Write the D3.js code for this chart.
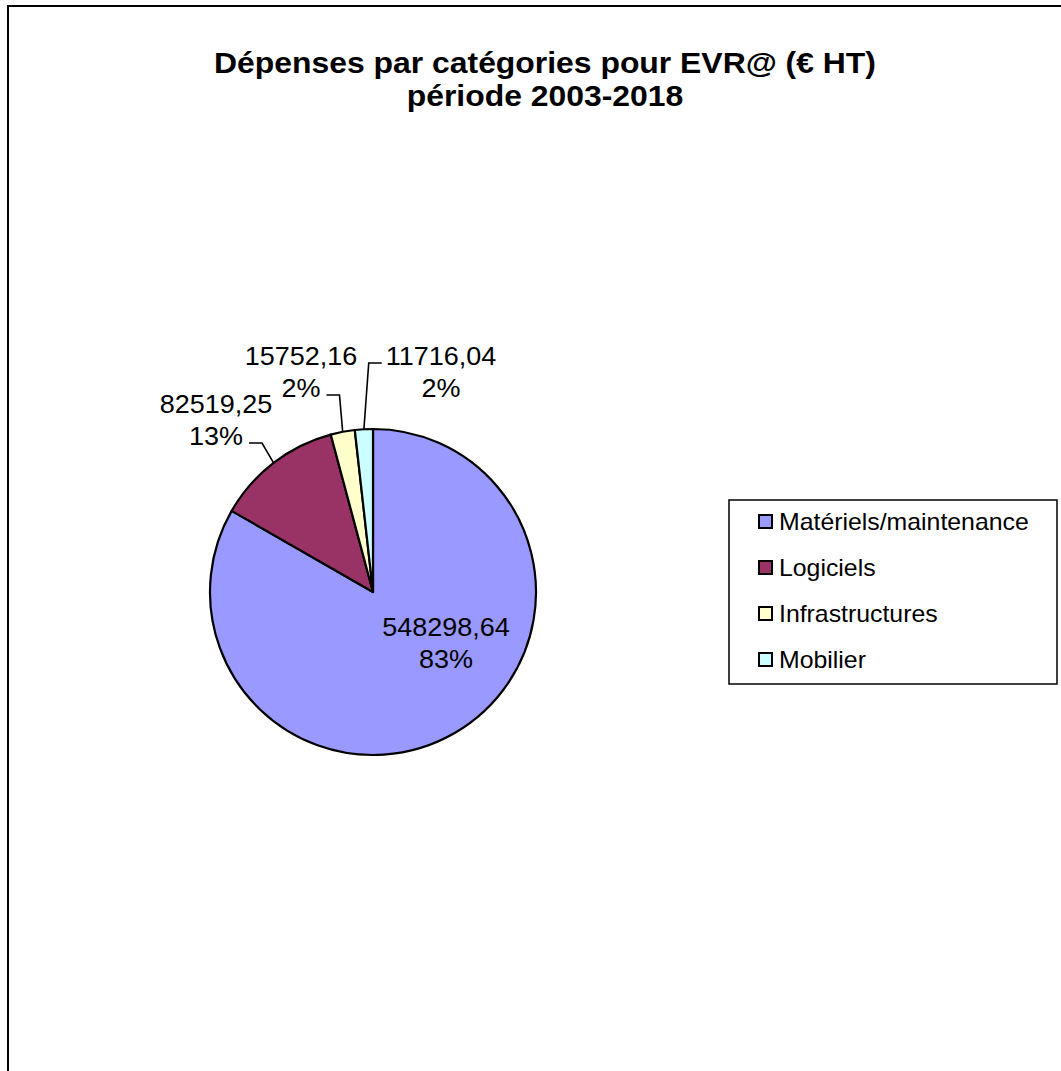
<!DOCTYPE html>
<html>
<head>
<meta charset="utf-8">
<script src="https://cdn.jsdelivr.net/npm/d3@7"></script>
<style>
  html, body { margin: 0; padding: 0; background: #fff; }
  svg { display: block; }
  text { font-family: "Liberation Sans", Arial, sans-serif; fill: #000; }
</style>
</head>
<body>
<svg id="chart" width="1061" height="1071"></svg>
<script>
'use strict';

// data
const categories = ['Matériels/maintenance', 'Logiciels', 'Infrastructures', 'Mobilier'];
const values = [548298.64, 82519.25, 15752.16, 11716.04];
const colors = ['#9999FF', '#993366', '#FFFFCC', '#CCFFFF'];
const titleLines = ['Dépenses par catégories pour EVR@ (€ HT)', 'période 2003-2018'];

// layout
const W = 1061, H = 1071;
const cx = 373, cy = 592, radius = 163;
const textStretch = 1.08;
// label block offset from pie centre (x = centre of text, y = baseline of first line)
const labelLayout = [
    { dx: 73, dy: 44, leader: null },
    { dx: -157, dy: -179, leader: 'right' },
    { dx: -72, dy: -227, leader: 'right' },
    { dx: 68, dy: -227, leader: 'left' }
];
const lineGap = 32;

const svg = d3.select('#chart');

// chart area border (runs off the right and bottom of the picture)
svg.append('path')
    .attr('d', `M8,${H} L8,6 L${W},6`)
    .attr('fill', 'none')
    .attr('stroke', '#000')
    .attr('stroke-width', 2);

// title
const title = svg.append('g')
    .attr('transform', 'translate(545,0) scale(1.1,1)');
title.selectAll('text')
    .data(titleLines)
    .enter()
    .append('text')
    .attr('x', 0)
    .attr('y', (d, i) => 73 + i * 33)
    .attr('text-anchor', 'middle')
    .style('font-size', '29px')
    .style('font-weight', 'bold')
    .text(d => d);

// pie
const total = d3.sum(values);
const fmt = d3.formatLocale({ decimal: ',', thousands: '', grouping: [3], currency: ['', ''] }).format('.2f');

const pie = d3.pie()
    .sort(null)
    .value(d => d);

const arc = d3.arc()
    .innerRadius(0)
    .outerRadius(radius);

const arcs = pie(values);

const pieG = svg.append('g')
    .attr('transform', `translate(${cx},${cy})`);

pieG.selectAll('.slice')
    .data(arcs)
    .enter()
    .append('path')
    .attr('class', 'slice')
    .attr('d', arc)
    .attr('fill', (d, i) => colors[i])
    .attr('stroke', '#000')
    .attr('stroke-width', 2.2)
    .attr('stroke-linejoin', 'round');

// data labels
arcs.forEach((a, i) => {
    const lay = labelLayout[i];
    const lines = [fmt(values[i]), Math.round(values[i] / total * 100) + '%'];
    const g = pieG.append('g')
        .attr('transform', `translate(${lay.dx},${lay.dy}) scale(${textStretch},1)`);
    const texts = g.selectAll('text')
        .data(lines)
        .enter()
        .append('text')
        .attr('x', 0)
        .attr('y', (d, k) => k * lineGap)
        .attr('text-anchor', 'middle')
        .style('font-size', '25px')
        .text(d => d);

    if (!lay.leader) return;

    const mid = (a.startAngle + a.endAngle) / 2;
    const start = [radius * Math.sin(mid), -radius * Math.cos(mid)];
    let endX, endY, elbowX;
    if (lay.leader === 'right') {
        const w = texts.nodes()[1].getComputedTextLength() * textStretch;
        endX = lay.dx + w / 2 + 6;
        endY = lay.dy + lineGap - 2;
        elbowX = endX + 13;
    } else {
        const w = texts.nodes()[0].getComputedTextLength() * textStretch;
        endX = lay.dx - w / 2 - 4;
        endY = lay.dy - 2;
        elbowX = endX - 13;
    }
    pieG.append('path')
        .attr('d', `M${start[0]},${start[1]} L${elbowX},${endY} L${endX},${endY}`)
        .attr('fill', 'none')
        .attr('stroke', '#000')
        .attr('stroke-width', 1.6);
});

// legend
const legend = svg.append('g')
    .attr('transform', 'translate(729,500)');
legend.append('rect')
    .attr('width', 328)
    .attr('height', 184)
    .attr('fill', '#fff')
    .attr('stroke', '#000')
    .attr('stroke-width', 1.5);

const items = legend.selectAll('.item')
    .data(categories)
    .enter()
    .append('g')
    .attr('class', 'item')
    .attr('transform', (d, i) => `translate(0,${22 + i * 46})`);

items.append('rect')
    .attr('x', 30)
    .attr('y', -7)
    .attr('width', 13)
    .attr('height', 13)
    .attr('fill', (d, i) => colors[i])
    .attr('stroke', '#000')
    .attr('stroke-width', 2);

items.append('text')
    .attr('transform', `translate(50,8) scale(${textStretch},1)`)
    .style('font-size', '23px')
    .text(d => d);
</script>
</body>
</html>
